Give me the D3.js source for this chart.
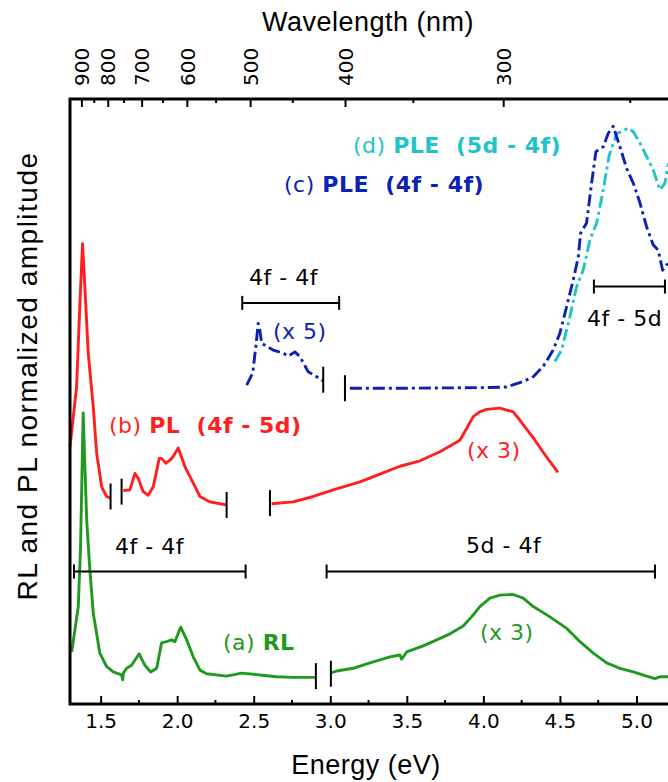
<!DOCTYPE html>
<html>
<head>
<meta charset="utf-8">
<script src="https://cdn.jsdelivr.net/npm/d3@7"></script>
<style>
  body { margin: 0; background: #fff; }
  text { font-family: "DejaVu Sans", Verdana, sans-serif; white-space: pre; }
  .title { font-family: "Liberation Sans Narrow", "Liberation Sans", Arial, sans-serif; }
</style>
</head>
<body>
<div id="chart"></div>
<script>
(function chart() {

  var width = 668,
    height = 782;

  // spectra, [energy eV, normalized amplitude]
  var rlLow = [[1.311,8.6],[1.354,16.1],[1.369,26.0],[1.386,48.1],[1.409,30.4],[1.430,22.1],[1.452,15.0],
    [1.495,8.4],[1.539,6.2],[1.582,5.3],[1.637,4.8],[1.644,4.0],[1.650,5.2],[1.670,5.9],[1.702,6.4],
    [1.752,8.3],[1.789,6.4],[1.827,5.3],[1.866,5.9],[1.898,10.1],[1.931,10.3],[1.964,10.6],[1.985,10.3],
    [2.023,12.7],[2.062,10.6],[2.105,7.8],[2.149,5.6],[2.192,5.0],[2.323,4.6],[2.421,5.1],[2.540,4.8],
    [2.650,4.5],[2.758,4.4],[2.906,4.4]];
  var rlHigh = [[3.009,5.2],[3.052,5.5],[3.150,5.9],[3.259,6.8],[3.390,7.8],[3.455,8.1],[3.466,7.4],
    [3.499,8.6],[3.607,9.6],[3.695,10.6],[3.782,11.6],[3.868,12.9],[3.923,14.4],[3.977,16.1],[4.043,17.5],
    [4.108,18.0],[4.195,18.1],[4.260,17.5],[4.326,16.1],[4.435,14.4],[4.544,12.5],[4.631,10.3],[4.718,8.4],
    [4.805,6.8],[4.892,5.9],[4.979,5.3],[5.066,4.6],[5.120,4.2],[5.153,4.5],[5.205,4.5],[5.283,4.5]];

  var plPeak = [[1.300,42.5],[1.343,52.4],[1.365,66.3],[1.382,76.1],[1.397,69.0],[1.419,58.0],[1.452,49.1],
    [1.474,41.5],[1.507,35.9],[1.539,34.3],[1.565,34.0]];
  var plLow = [[1.648,35.3],[1.691,35.4],[1.724,38.1],[1.746,37.3],[1.778,35.1],[1.811,34.5],[1.844,35.9],
    [1.883,40.6],[1.898,40.6],[1.927,39.8],[1.953,40.3],[1.974,40.9],[2.007,42.3],[2.051,39.2],[2.105,36.5],
    [2.149,34.3],[2.214,33.4],[2.323,32.9]];
  var plHigh = [[2.617,33.1],[2.758,33.4],[2.889,34.3],[3.019,35.4],[3.194,36.7],[3.324,38.0],[3.455,39.3],
    [3.586,40.2],[3.716,41.7],[3.847,43.6],[3.934,47.5],[3.977,48.3],[4.021,48.7],[4.108,48.9],[4.195,48.3],
    [4.239,46.9],[4.337,43.6],[4.402,41.2],[4.487,38.3]];

  var pleFF = [[2.454,52.7],[2.493,54.7],[2.514,59.1],[2.529,62.9],[2.540,61.8],[2.552,59.6],[2.627,58.5],
    [2.693,58.0],[2.725,57.5],[2.769,58.2],[2.802,57.4],[2.856,54.9],[2.911,54.1],[2.954,53.4]];
  var pleFD = [[3.128,52.2],[3.499,52.2],[4.021,52.3],[4.152,52.4],[4.260,53.3],[4.326,54.1],[4.391,55.8],
    [4.456,58.5],[4.500,61.3],[4.544,65.7],[4.587,70.1],[4.620,73.9],[4.635,77.8],[4.674,79.5],[4.707,86.1],
    [4.735,91.3],[4.783,92.1],[4.815,94.3],[4.848,95.5],[4.892,92.1],[4.936,88.5],[4.979,86.1],[5.023,82.8],
    [5.066,78.9],[5.109,75.9],[5.142,75.0],[5.171,71.7],[5.197,72.6],[5.251,73.1]];
  var ple5d = [[4.467,56.6],[4.511,58.5],[4.565,64.0],[4.609,69.0],[4.652,71.7],[4.696,76.7],[4.740,79.5],
    [4.783,85.0],[4.822,90.7],[4.871,94.3],[4.903,94.6],[4.946,95.2],[4.979,94.6],[5.023,92.7],[5.066,90.5],
    [5.109,88.3],[5.153,85.0],[5.186,86.1],[5.205,88.9],[5.251,91.6]];

  // axis breaks [energy, amplitude]
  var breaks = [[2.906,4.6],[3.004,5.0],[1.565,34.3],[1.637,35.1],[2.323,32.9],[2.606,33.2],[2.954,53.6],[3.096,52.2]];

  // transition ranges [from eV, to eV, amplitude]
  var ranges = [[2.425,3.058,66.3],[1.326,2.447,21.9],[2.976,5.121,21.9],[4.722,5.186,69.0]];

  var energyTicks = [1.5, 2.0, 2.5, 3.0, 3.5, 4.0, 4.5, 5.0];
  var energyMinor = [1.75, 2.25, 2.75, 3.25, 3.75, 4.25, 4.75, 5.25];
  var waveTicks = [900, 800, 700, 600, 500, 400, 300];
  var waveMinor = [850, 750, 650, 550, 450, 350, 250];

  var green = "#1f9a1f", red = "#ff1f1f", blue = "#0c22b4", cyan = "#1ec4c8";

  var x = d3.scaleLinear().domain([1.3, 5.3]).range([70, 682.4]);
  var y = d3.scaleLinear().domain([0, 100]).range([704, 99]);

  var svg = d3.select("#chart").append("svg")
    .attr("width", width)
    .attr("height", height);

  var line = d3.line()
    .x(function(d) { return x(d[0]); })
    .y(function(d) { return y(d[1]); });

  function curve(data, color, dash) {
    svg.append("path")
      .datum(data)
      .attr("d", line)
      .attr("fill", "none")
      .attr("stroke", color)
      .attr("stroke-width", 2.9)
      .attr("stroke-linejoin", "round")
      .attr("stroke-dasharray", dash || null);
  }

  curve(rlLow, green);
  curve(rlHigh, green);
  curve(plPeak, red);
  curve(plLow, red);
  curve(plHigh, red);
  curve(ple5d, cyan, "12,4,3,4");
  curve(pleFF, blue, "12,4,3,4");
  curve(pleFD, blue, "12,4,3,4");

  // break marks
  svg.selectAll(".brk")
    .data(breaks)
    .enter().append("line")
    .attr("x1", function(d) { return x(d[0]); })
    .attr("x2", function(d) { return x(d[0]); })
    .attr("y1", function(d) { return y(d[1]) - 13; })
    .attr("y2", function(d) { return y(d[1]) + 13; })
    .attr("stroke", "#000")
    .attr("stroke-width", 2);

  // range brackets
  var rg = svg.selectAll(".range")
    .data(ranges)
    .enter().append("g");
  rg.append("line")
    .attr("x1", function(d) { return x(d[0]); })
    .attr("x2", function(d) { return x(d[1]); })
    .attr("y1", function(d) { return y(d[2]); })
    .attr("y2", function(d) { return y(d[2]); })
    .attr("stroke", "#000").attr("stroke-width", 2);
  [0, 1].forEach(function(k) {
    rg.append("line")
      .attr("x1", function(d) { return x(d[k]); })
      .attr("x2", function(d) { return x(d[k]); })
      .attr("y1", function(d) { return y(d[2]) - 7; })
      .attr("y2", function(d) { return y(d[2]) + 7; })
      .attr("stroke", "#000").attr("stroke-width", 2);
  });

  // annotations
  function label(px, py, parts) {
    var t = svg.append("text")
      .attr("x", px)
      .attr("y", py)
      .attr("font-size", 22)
      .attr("letter-spacing", 0.5);
    parts.forEach(function(p) {
      t.append("tspan")
        .attr("fill", p[1])
        .attr("font-weight", p[2] ? "bold" : "normal")
        .text(p[0]);
    });
  }

  label(353, 153, [["(d) ", cyan], ["PLE  (5d - 4f)", cyan, true]]);
  label(284, 192, [["(c) ", blue], ["PLE  (4f - 4f)", blue, true]]);
  label(249, 285, [["4f - 4f", "#000"]]);
  label(273, 339, [["(x 5)", blue]]);
  label(587, 326, [["4f - 5d", "#000"]]);
  label(109, 433, [["(b) ", red], ["PL  (4f - 5d)", red, true]]);
  label(467, 458, [["(x 3)", red]]);
  label(115, 554, [["4f - 4f", "#000"]]);
  label(466, 553, [["5d - 4f", "#000"]]);
  label(480, 640, [["(x 3)", green]]);
  label(223, 650, [["(a) ", green], ["RL", green, true]]);

  // bottom axis
  var bottom = svg.append("g")
    .attr("transform", "translate(0," + y(0) + ")")
    .call(d3.axisBottom(x).tickValues(energyTicks).tickFormat(d3.format(".1f"))
      .tickSize(-8).tickPadding(10));
  bottom.selectAll("text").attr("font-size", 20).attr("fill", "#000")
    .attr("font-family", "DejaVu Sans, Verdana, sans-serif");
  bottom.selectAll(".tick line").attr("stroke-width", 2);
  bottom.select(".domain").remove();

  svg.selectAll(".eminor")
    .data(energyMinor)
    .enter().append("line")
    .attr("x1", function(d) { return x(d); })
    .attr("x2", function(d) { return x(d); })
    .attr("y1", y(0))
    .attr("y2", y(0) - 4)
    .attr("stroke", "#000").attr("stroke-width", 2);

  // top axis (wavelength)
  function eV(nm) { return 1239.84 / nm; }

  svg.selectAll(".wmajor")
    .data(waveTicks)
    .enter().append("line")
    .attr("x1", function(d) { return x(eV(d)); })
    .attr("x2", function(d) { return x(eV(d)); })
    .attr("y1", y(100))
    .attr("y2", y(100) + 8)
    .attr("stroke", "#000").attr("stroke-width", 2);

  svg.selectAll(".wminor")
    .data(waveMinor)
    .enter().append("line")
    .attr("x1", function(d) { return x(eV(d)); })
    .attr("x2", function(d) { return x(eV(d)); })
    .attr("y1", y(100))
    .attr("y2", y(100) + 4)
    .attr("stroke", "#000").attr("stroke-width", 2);

  svg.selectAll(".wlabel")
    .data(waveTicks)
    .enter().append("text")
    .attr("transform", function(d) { return "translate(" + x(eV(d)) + ",86) rotate(-90)"; })
    .attr("dy", "0.36em")
    .attr("font-size", 20)
    .text(function(d) { return d; });

  // frame
  svg.append("rect")
    .attr("x", x(1.3))
    .attr("y", y(100))
    .attr("width", x(5.3) - x(1.3))
    .attr("height", y(0) - y(100))
    .attr("fill", "none")
    .attr("stroke", "#000")
    .attr("stroke-width", 3);

  // titles
  svg.append("text")
    .attr("class", "title")
    .attr("x", 368)
    .attr("y", 31)
    .attr("text-anchor", "middle")
    .attr("font-size", 27)
    .attr("letter-spacing", 0.5)
    .text("Wavelength (nm)");

  svg.append("text")
    .attr("class", "title")
    .attr("x", 366)
    .attr("y", 774)
    .attr("text-anchor", "middle")
    .attr("font-size", 27)
    .attr("letter-spacing", 0.5)
    .text("Energy (eV)");

  svg.append("text")
    .attr("class", "title")
    .attr("transform", "translate(37,376) rotate(-90)")
    .attr("text-anchor", "middle")
    .attr("font-size", 28)
    .attr("letter-spacing", 1.5)
    .text("RL and PL normalized amplitude");
})();
</script>
</body>
</html>
